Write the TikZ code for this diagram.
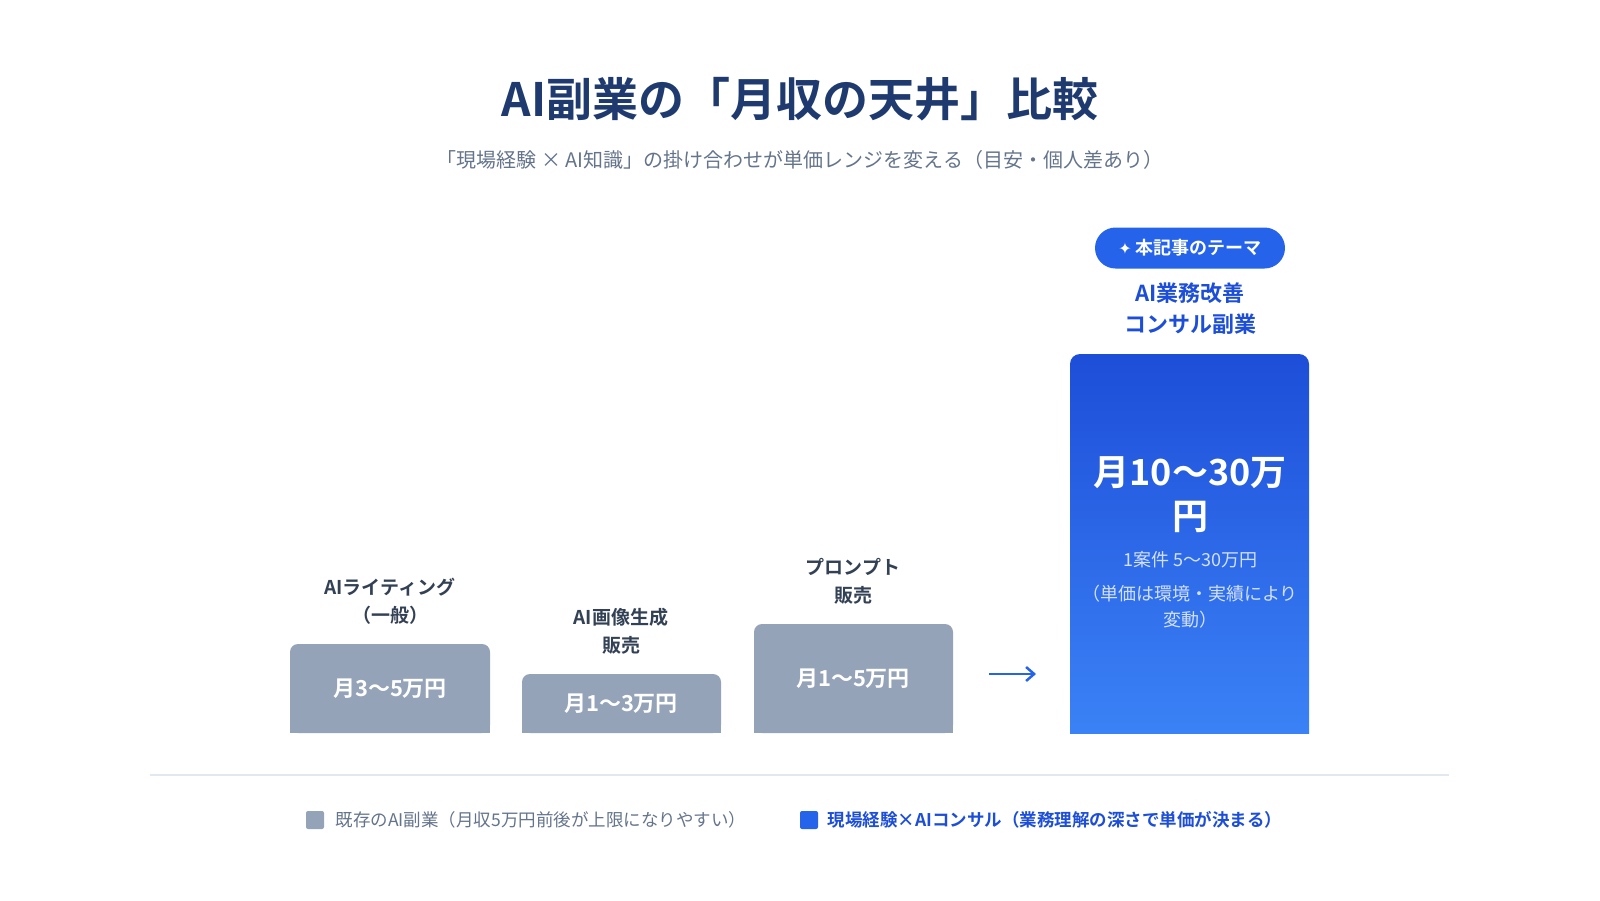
\documentclass[tikz,border=0pt]{standalone}
\usetikzlibrary{arrows.meta}
\usepackage{fontspec}
\setmainfont{Noto Sans CJK JP}
\newfontfamily\bold{Noto Sans CJK JP Bold}
\newfontfamily\sym{DejaVu Sans}
\definecolor{navy}{HTML}{1E3A6E}
\definecolor{sub}{HTML}{64748B}
\definecolor{barg}{HTML}{94A3B8}
\definecolor{lab}{HTML}{334155}
\definecolor{blu}{HTML}{2563EB}
\definecolor{bluT}{HTML}{1D4ED8}
\definecolor{bluB}{HTML}{3B82F6}
\definecolor{line}{HTML}{E2E8F0}
\begin{document}
\begin{tikzpicture}[x=1pt,y=-1pt,
  bar/.style={fill=barg,draw=none},
  lbl/.style={font=\bold\fontsize{19}{28}\selectfont,text=lab,align=center},
  bt/.style={font=\bold\fontsize{22}{26}\selectfont,text=white}]
\useasboundingbox (0,0) rectangle (1600,900);
\node (title) at (800,99) {\bold\fontsize{46}{52}\selectfont\color{navy}AI副業の「月収の天井」比較};
\node (subt) at (800,160) {\fontsize{20}{24}\selectfont\color{sub}「現場経験 × AI知識」の掛け合わせが単価レンジを変える（目安・個人差あり）};
% gray bars
\path[bar,rounded corners=8pt] (290,733) |- (490,644) -- (490,733) -- cycle;
\path[bar,rounded corners=8pt] (522,733) |- (721,674) -- (721,733) -- cycle;
\path[bar,rounded corners=8pt] (754,733) |- (953,624) -- (953,733) -- cycle;
\fill[barg] (290,700) rectangle (490,733);
\fill[barg] (522,710) rectangle (721,733);
\fill[barg] (754,700) rectangle (953,733);
\node[bt] (b1) at (390,689) {月3〜5万円};
\node[bt] (b2) at (621,704) {月1〜3万円};
\node[bt] (b3) at (853,679) {月1〜5万円};
\node[lbl] (l1) at (390,601) {AIライティング\\（一般）};
\node[lbl] (l2) at (621,631) {AI画像生成\\販売};
\node[lbl] (l3) at (853,581) {プロンプト\\販売};
% arrow
\coordinate (a1) at (989,674); \coordinate (a2) at (1036,674);
\draw[blu,line width=2.5pt,-{Straight Barb[length=8pt,width=14pt]}] (a1) -- (a2);
% blue box
\begin{scope}
\clip[rounded corners=10pt] (1070,745) |- (1309,354) -- (1309,745) -- cycle;
\shade[top color=bluT,bottom color=bluB] (1070,354) rectangle (1309,733);
\end{scope}
\node[font=\bold\fontsize{36}{44}\selectfont,text=white,align=center] (big) at (1190,495) {月10〜30万\\円};
\node[font=\fontsize{18}{22}\selectfont,text=white!80!blu] (n1) at (1190,560) {1案件 5〜30万円};
\node[font=\fontsize{18}{26}\selectfont,text=white!80!blu,align=center] (n2) at (1190,607) {（単価は環境・実績により\\変動）};
\node[font=\bold\fontsize{22}{31}\selectfont,text=bluT,align=center] (h) at (1190,309) {AI業務改善\\コンサル副業};
\node[fill=blu,rounded corners=20.5pt,minimum width=190pt,minimum height=41pt,text=white,font=\bold\fontsize{18}{22}\selectfont] (badge) at (1190,248) {{\sym\fontsize{16}{20}\selectfont ✦} 本記事のテーマ};
% separator
\coordinate (s1) at (150,775); \coordinate (s2) at (1449,775);
\draw[line,line width=2pt] (s1) -- (s2);
% legend
\fill[barg,rounded corners=2pt] (306,811) rectangle (324,829);
\node[anchor=west,font=\fontsize{17.5}{20}\selectfont,text=sub] (lg1) at (332,820) {既存のAI副業（月収5万円前後が上限になりやすい）};
\fill[blu,rounded corners=2pt] (800,811) rectangle (818,829);
\node[anchor=west,font=\bold\fontsize{17.5}{20}\selectfont,text=bluT] (lg2) at (824,820) {現場経験×AIコンサル（業務理解の深さで単価が決まる）};
\end{tikzpicture}
\end{document}
